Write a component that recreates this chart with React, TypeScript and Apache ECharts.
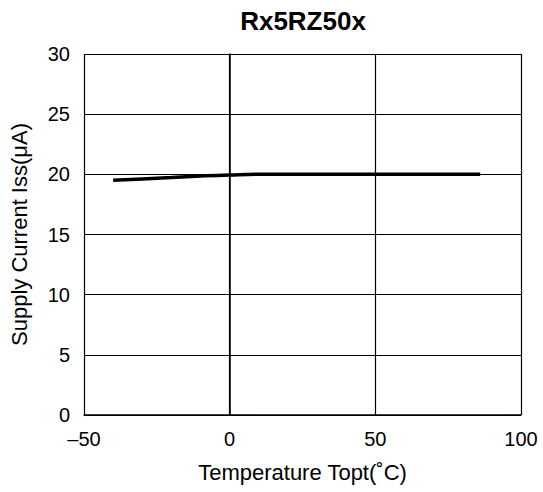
import React, { useEffect, useRef } from "react";
import * as echarts from "echarts";

const title = "Rx5RZ50x";
const xName = "Temperature Topt(˚C)";
const yName = "Supply Current Iss(μA)";
const temps = [-40, -30, -20, -10, 0, 10, 25, 50, 86];
const current = [19.5, 19.62, 19.74, 19.86, 19.95, 20.0, 20.0, 20.0, 20.0];

export default function App() {
  const ref = useRef<HTMLDivElement>(null);
  useEffect(() => {
    if (!ref.current) return;
    const chart = echarts.init(ref.current, null, { renderer: "svg" });
    const font = "Arial, 'Liberation Sans', Helvetica, sans-serif";
    chart.setOption({
      animation: false,
      backgroundColor: "#ffffff",
      grid: { left: 84, right: 22, top: 54, bottom: 77, containLabel: false },
      graphic: [
        {
          type: "text",
          x: 303,
          y: 21,
          style: {
            text: title,
            fontSize: 26,
            fontWeight: "bold",
            fontFamily: font,
            fill: "#000",
            textAlign: "center",
            textVerticalAlign: "middle",
          },
        },
      ],
      xAxis: {
        type: "value",
        min: -50,
        max: 100,
        interval: 50,
        name: xName,
        nameLocation: "middle",
        nameGap: 46,
        nameTextStyle: { fontSize: 22, fontFamily: font, color: "#000" },
        axisLine: { show: true, lineStyle: { color: "#000", width: 1.5 } },
        axisTick: { show: false },
        axisLabel: {
          fontSize: 20,
          fontFamily: font,
          color: "#000",
          margin: 14,
          formatter: (v: number) => (v < 0 ? "–" + Math.abs(v) : String(v)),
        },
        splitLine: { show: true, lineStyle: { color: "#000", width: 1.2 } },
      },
      yAxis: {
        type: "value",
        min: 0,
        max: 30,
        interval: 5,
        name: yName,
        nameLocation: "middle",
        nameGap: 54,
        nameTextStyle: { fontSize: 22, fontFamily: font, color: "#000" },
        axisLine: { show: true, lineStyle: { color: "#000", width: 1.5 } },
        axisTick: { show: false },
        axisLabel: { fontSize: 20, fontFamily: font, color: "#000", margin: 14 },
        splitLine: { show: true, lineStyle: { color: "#000", width: 1.2 } },
      },
      series: [
        {
          type: "line",
          data: temps.map((t, i) => [t, current[i]]),
          showSymbol: false,
          smooth: true,
          lineStyle: { color: "#000", width: 3.5 },
        },
      ],
    });
    return () => chart.dispose();
  }, []);
  return (
    <div
      ref={ref}
      style={{ position: "fixed", left: 0, top: 0, width: 543, height: 492, background: "#fff" }}
    />
  );
}
